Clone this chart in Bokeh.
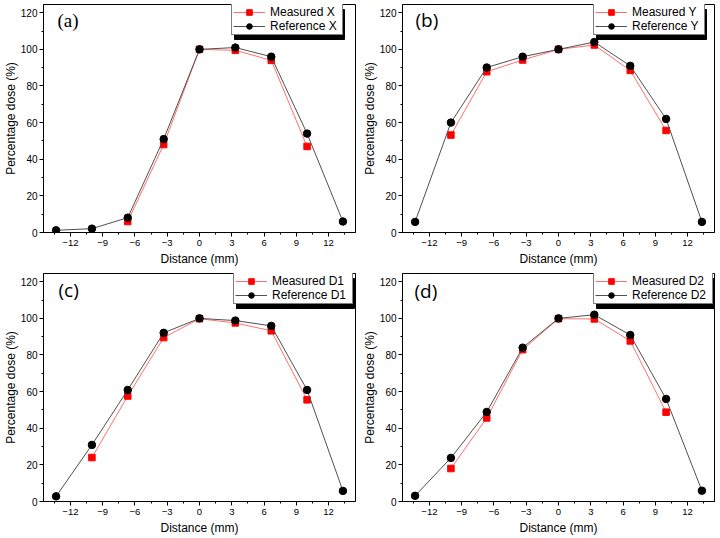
from bokeh.plotting import figure
from bokeh.layouts import gridplot
from bokeh.models import (Range1d, FixedTicker, Legend, LegendItem, Label,
                          BoxAnnotation)
from bokeh.embed import file_html
from bokeh.resources import INLINE

# Detector positions (mm)
distance = [-13.33, -10.0, -6.67, -3.33, 0.0, 3.33, 6.67, 10.0, 13.33]
distance_meas_x = [-6.67, -3.33, 0.0, 3.33, 6.67, 10.0]
distance_meas = [-10.0, -6.67, -3.33, 0.0, 3.33, 6.67, 10.0]

# Percentage dose profiles
measured_x = [6, 48, 100, 99.5, 94, 47]
reference_x = [1.2, 2.1, 8.1, 51, 100, 101, 96, 54, 6]

measured_y = [53.2, 87.8, 94.2, 100, 102.4, 88.5, 55.7]
reference_y = [5.8, 60, 90.1, 96, 100, 104, 91, 62, 5.8]

measured_d1 = [24, 57.6, 89.5, 99.8, 97.5, 93.2, 55.5]
reference_d1 = [2.8, 30.9, 60.9, 92.1, 100, 98.8, 95.9, 60.9, 5.8]

measured_d2 = [18, 45.6, 82.9, 99.8, 99.7, 87.7, 48.8]
reference_d2 = [3.1, 23.8, 48.9, 84, 100, 102, 90.9, 56, 5.9]

x_ticks = [-12, -9, -6, -3, 0, 3, 6, 9, 12]
y_ticks = [0, 20, 40, 60, 80, 100, 120]

FONT = "Liberation Sans"
FW, FH = 312, 228


def panel(tag, tag_font, xm, ym, yr, name, tag_dx, tag_dy, right_gap):
    p = figure(frame_width=FW, frame_height=FH, output_backend="svg",
               toolbar_location=None,
               x_range=Range1d(-14.5, 14.5), y_range=Range1d(0, 124.5),
               min_border_left=40, min_border_right=4,
               min_border_top=4, min_border_bottom=37)
    p.grid.visible = False
    p.outline_line_color = "black"
    p.outline_line_width = 1
    p.background_fill_color = "white"
    p.border_fill_color = "white"

    p.xaxis.ticker = FixedTicker(ticks=x_ticks,
                                 minor_ticks=[v + 1.5 for v in x_ticks] + [-13.5])
    p.yaxis.ticker = FixedTicker(ticks=y_ticks,
                                 minor_ticks=[v + 10 for v in y_ticks])
    for ax in (p.xaxis[0], p.yaxis[0]):
        ax.axis_line_color = "black"
        ax.major_tick_line_color = "black"
        ax.minor_tick_line_color = "black"
        ax.major_tick_in = 0
        ax.major_tick_out = 4
        ax.minor_tick_in = 0
        ax.minor_tick_out = 2
        ax.major_label_text_font = FONT
        ax.major_label_text_color = "black"
        ax.axis_label_text_font = FONT
        ax.axis_label_text_font_style = "normal"
        ax.axis_label_text_font_size = "12px"
        ax.axis_label_text_color = "black"
    p.xaxis.major_label_text_font_size = "9.5px"
    p.yaxis.major_label_text_font_size = "10px"
    p.xaxis.major_label_standoff = 3
    p.yaxis.major_label_standoff = 2
    p.xaxis.axis_label = "Distance (mm)"
    p.yaxis.axis_label = "Percentage dose (%)"
    p.xaxis.axis_label_standoff = 3
    p.yaxis.axis_label_standoff = 0

    ml = p.line(xm, ym, line_color="#ff6f6f", line_width=1)
    ms = p.scatter(xm, ym, marker="square", size=6.5, fill_color="#ff0000",
                   line_color="#ff0000")
    rl = p.line(distance, yr, line_color="#505050", line_width=1)
    rs = p.scatter(distance, yr, marker="circle", size=7.5, fill_color="black",
                   line_color="black")

    label_w = 71 if len(name) == 1 else 79
    pad, gw, stand, row = 1, 32, 5, 14
    lw = 2 * pad + gw + stand + label_w
    lh = 2 * pad + 2 * row
    vx = FW - right_gap - lw
    vy = FH - 1 - lh

    # drop shadow behind the legend box
    p.add_layout(BoxAnnotation(left=vx + 3, right=vx + lw + 3,
                               bottom=vy - 4, top=vy + lh - 4,
                               left_units="screen", right_units="screen",
                               bottom_units="screen", top_units="screen",
                               fill_color="black", fill_alpha=1.0,
                               line_color="black", line_alpha=1.0))

    legend = Legend(items=[LegendItem(label="Measured " + name, renderers=[ml, ms]),
                           LegendItem(label="Reference " + name, renderers=[rl, rs])],
                    location=(vx, vy), orientation="vertical",
                    padding=pad, spacing=0, margin=0,
                    glyph_width=gw, glyph_height=row, label_height=row,
                    label_width=label_w, label_standoff=stand,
                    label_text_font=FONT, label_text_font_size="12px",
                    label_text_color="black",
                    background_fill_color="white", background_fill_alpha=1.0,
                    border_line_color="black", border_line_width=1)
    p.add_layout(legend)

    p.add_layout(Label(x=tag_dx, y=FH - tag_dy, x_units="screen", y_units="screen",
                       text=tag, text_font=tag_font, text_font_size="19px",
                       text_baseline="middle", text_color="black"))
    return p


pa = panel("(a)", "Liberation Serif", distance_meas_x, measured_x, reference_x,
           "X", 14, 16, 14)
pb = panel("(b)", "Open Sans", distance_meas, measured_y, reference_y,
           "Y", 13, 15, 11)
pc = panel("(c)", "Open Sans", distance_meas, measured_d1, reference_d1,
           "D1", 15, 16, 4)
pd = panel("(d)", "Open Sans", distance_meas, measured_d2, reference_d2,
           "D2", 12, 17, 3)

grid = gridplot([[pa, pb], [pc, pd]], toolbar_location=None)

open("out.html", "w").write(file_html(grid, INLINE))
